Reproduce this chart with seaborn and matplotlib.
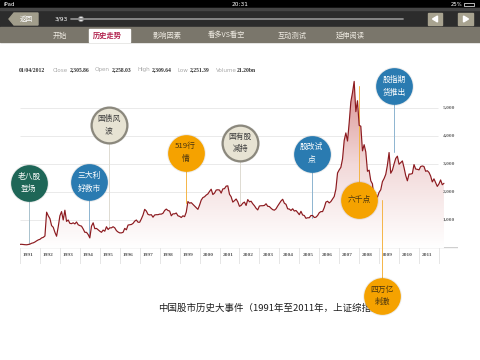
import numpy as np
import matplotlib
matplotlib.use("Agg")
import matplotlib.pyplot as plt
import seaborn as sns
from matplotlib.colors import LinearSegmentedColormap
from matplotlib.patches import Rectangle, Polygon, Circle

# 上证综指 月收盘 (1991.01 - 2012.04)
close_1991 = [130, 132, 125, 118, 115, 125, 140, 170, 185, 215, 255, 290]
close_1992 = [310, 360, 380, 430, 1280, 1150, 1050, 800, 740, 560, 420, 760]
close_1993 = [1150, 1300, 1000, 1350, 950, 1000, 880, 870, 900, 860, 930, 830]
close_1994 = [800, 780, 680, 560, 560, 480, 360, 780, 900, 690, 700, 650]
close_1995 = [600, 560, 640, 600, 760, 660, 720, 720, 760, 720, 620, 570]
close_1996 = [540, 540, 560, 700, 650, 820, 830, 840, 880, 960, 1000, 920]
close_1997 = [920, 1040, 1180, 1380, 1320, 1200, 1180, 1190, 1100, 1180, 1190, 1190]
close_1998 = [1210, 1210, 1240, 1340, 1390, 1340, 1320, 1150, 1220, 1220, 1250, 1150]
close_1999 = [1130, 1090, 1150, 1120, 1280, 1660, 1600, 1620, 1560, 1500, 1440, 1380]
close_2000 = [1530, 1710, 1800, 1830, 1890, 1930, 2020, 2100, 1910, 1960, 2070, 2080]
close_2001 = [2070, 1960, 2110, 2120, 2210, 2220, 1920, 1830, 1640, 1690, 1750, 1650]
close_2002 = [1490, 1520, 1600, 1640, 1520, 1730, 1650, 1670, 1580, 1510, 1420, 1360]
close_2003 = [1500, 1510, 1510, 1520, 1580, 1490, 1480, 1420, 1370, 1350, 1400, 1500]
close_2004 = [1590, 1680, 1740, 1600, 1560, 1400, 1390, 1340, 1400, 1320, 1340, 1270]
close_2005 = [1190, 1310, 1180, 1160, 1060, 1080, 1080, 1160, 1160, 1090, 1100, 1160]
close_2006 = [1260, 1300, 1300, 1440, 1640, 1670, 1610, 1660, 1750, 1840, 2100, 2680]
close_2007 = [2790, 2880, 3180, 3840, 4110, 3820, 4470, 5220, 5550, 5950, 4870, 5260]
close_2008 = [4380, 4350, 3470, 3690, 3430, 2740, 2780, 2400, 2290, 1730, 1870, 1820]
close_2009 = [1990, 2080, 2370, 2480, 2630, 2960, 3410, 2670, 2780, 3000, 3200, 3280]
close_2010 = [2990, 3050, 3110, 2870, 2590, 2400, 2640, 2640, 2660, 2980, 2820, 2810]
close_2011 = [2790, 2910, 2930, 2910, 2740, 2760, 2700, 2570, 2360, 2470, 2330, 2200]
close_2012 = [2290, 2430, 2260, 2310]

year_labels = [str(y) for y in range(1991, 2012)]
grid_levels = [1000, 2000, 3000, 4000, 5000]
grid_labels = ["1,000", "2,000", "3,000", "4,000", "5,000"]

# 大事件
event_text = ["老八股\n登场", "三大利\n好救市", "国债风\n波", "519行\n情", "国有股\n减持",
              "股改试\n点", "六千点", "股指期\n货推出", "四万亿\n刺激"]
event_date = [1991.45, 1994.48, 1995.45, 1999.3, 2002.05, 2005.62, 2008.0, 2009.77, 2009.15]
event_level = [150, 390, 700, 1600, 1550, 1080, 5800, 3430, 1700]
event_kind = ["green", "blue", "beige", "orange", "beige", "blue", "orange", "blue", "orange"]

info_labels = ["Close", "Open", "High", "Low", "Volume"]
info_values = ["2,305.86", "2,258.03", "2,309.64", "2,251.39", "21.20bn"]
tabs = ["开始", "历史走势", "影响因素", "看多VS看空", "互动测试", "延伸阅读"]

# 画面布局 (像素)
circle_y = [2320, 2340, 4390, 3410, 3750, 3375, 1714, 5770, -1710]
tab_x = [60, 107, 167, 226, 292, 350]
label_x = [53, 95, 137, 177, 216]
value_x = [70, 112, 152, 190, 237]

fill_col = {"green": "#1e6657", "blue": "#2a7bb1", "orange": "#f5a200", "beige": "#e7e3d3"}
text_col = {"green": "white", "blue": "white", "orange": "#4a3510", "beige": "#3a3a3a"}
line_col = {"green": "#a9c2cd", "blue": "#8db4d0", "orange": "#f5b547", "beige": "#dedbd2"}

sns.set_theme(style="white")
plt.rcParams["font.family"] = ["Noto Sans CJK SC", "DejaVu Sans"]

W, H = 480, 360
fig = plt.figure(figsize=(4.8, 3.6), dpi=100)
fig.patch.set_facecolor("white")

# 背景层：iPad 界面与标题
bg = fig.add_axes([0, 0, 1, 1], zorder=0)
bg.set_xlim(0, W)
bg.set_ylim(H, 0)
bg.axis("off")

bg.add_patch(Rectangle((0, 0), W, 8, color="black"))
bg.add_patch(Rectangle((0, 8), W, 19, color="#2c2c2c"))
bg.add_patch(Rectangle((0, 8), W, 2, color="#454545"))
bg.add_patch(Rectangle((0, 27), W, 15, color="#7a766b"))
bg.text(3, 4, "iPad", color="white", fontsize=4, va="center", family="DejaVu Sans")
bg.text(240, 4, "20:31", color="white", fontsize=4.2, va="center", ha="center", family="DejaVu Sans")
bg.text(462, 4, "25%", color="white", fontsize=3.8, va="center", ha="right", family="DejaVu Sans")
bg.add_patch(Rectangle((464, 2.5), 10, 3.5, fill=False, ec="white", lw=0.5))

bg.add_patch(Polygon([(9, 19), (14, 13), (38, 13), (38, 25), (14, 25)], color="#a19d8b"))
bg.text(26, 19, "返回", color="white", fontsize=4.8, ha="center", va="center")
bg.text(55, 19, "3/93", color="white", fontsize=4.3, va="center", family="DejaVu Sans")
bg.plot([71, 403], [19, 19], color="#8e8e8e", lw=1.3)
bg.add_patch(Circle((81, 19), 2.6, fc="#e8e8e8", ec="#777", lw=0.5))
bg.add_patch(Rectangle((428, 13), 14, 12, color="#a8a390"))
bg.add_patch(Rectangle((458, 13), 15, 12, color="#a8a390"))
bg.add_patch(Polygon([(432.5, 19), (437.5, 16), (437.5, 22)], color="white"))
bg.add_patch(Polygon([(468.5, 19), (463.5, 16), (463.5, 22)], color="white"))

bg.add_patch(Rectangle((89, 29), 41, 13, color="white"))
for t, tx in zip(tabs, tab_x):
    sel = t == "历史走势"
    bg.text(tx, 35.5, t, ha="center", va="center", fontsize=5.2,
            color="#b1204c" if sel else "#efebe2", weight="bold" if sel else "normal")

bg.text(19, 70, "01/04/2012", fontsize=4.1, va="center", weight="bold",
        color="#333", family="Liberation Serif")
for lb, v, lx, vx in zip(info_labels, info_values, label_x, value_x):
    bg.text(lx, 70, lb, fontsize=4.1, va="center", color="#aaa", family="DejaVu Sans")
    bg.text(vx, 70, v, fontsize=4.1, va="center", weight="bold", color="#333",
            family="Liberation Serif")

bg.text(158, 308, "中国股市历史大事件（1991年至2011年，上证综指）", fontsize=6.8,
        va="center", color="#1e1e1e")

# 主图
close = np.concatenate([close_1991, close_1992, close_1993, close_1994, close_1995,
                        close_1996, close_1997, close_1998, close_1999, close_2000,
                        close_2001, close_2002, close_2003, close_2004, close_2005,
                        close_2006, close_2007, close_2008, close_2009, close_2010,
                        close_2011, close_2012])
dates = 1991 + np.arange(len(close)) / 12

px_year = 19.95
x0, x1 = 1991, 1991 + 438 / px_year
ax = fig.add_axes([20 / W, 1 - 248 / H, 438 / W, 168 / H], zorder=2)
ax.patch.set_visible(False)
ax.set_xlim(x0, x1)
ax.set_ylim(0, 6000)
for s in ax.spines.values():
    s.set_visible(False)
ax.set_xticks([])
ax.set_yticks([])

grid_end = 1991 + 418 / px_year
ax.hlines(grid_levels, x0, grid_end, color="#e7e7e7", lw=0.6, zorder=0)
for lv, lb in zip(grid_levels, grid_labels):
    ax.text(grid_end + 0.25, lv, lb, fontsize=3.9, va="center", color="#666",
            weight="bold", family="Liberation Serif")

cmap = LinearSegmentedColormap.from_list("pk", ["#ffffff", "#f2d9d9", "#d98f8f"])
grad = np.linspace(0, 1, 256).reshape(-1, 1)
im = ax.imshow(grad, extent=[x0, x1, 0, 6000], origin="lower", aspect="auto",
               cmap=cmap, zorder=1)
poly = ax.fill_between(dates, close, 0, color="none", lw=0)
im.set_clip_path(poly.get_paths()[0], transform=ax.transData)

sns.lineplot(x=dates, y=close, color="#8c1a1f", linewidth=0.85, ax=ax, zorder=3)

# 事件连线与圆圈
for txt, d, lv, cy, k in zip(event_text, event_date, event_level, circle_y, event_kind):
    ax.plot([d, d], [cy, lv], color=line_col[k], lw=0.7, zorder=2, clip_on=False)
for txt, d, lv, cy, k in zip(event_text, event_date, event_level, circle_y, event_kind):
    ax.scatter([d], [cy], s=780, color="black", alpha=0.07, lw=0, zorder=4, clip_on=False)
    if k == "beige":
        ax.scatter([d], [cy], s=660, color=fill_col[k], edgecolor="#8b887d", linewidth=1.6,
                   zorder=5, clip_on=False)
    else:
        ax.scatter([d], [cy], s=700, color=fill_col[k], lw=0, zorder=5, clip_on=False)
    ax.text(d, cy, txt, ha="center", va="center", fontsize=5.6, linespacing=1.75,
            color=text_col[k], zorder=6, clip_on=False)

# 年份格子
ay = fig.add_axes([20 / W, 1 - 264 / H, 438 / W, 17 / H], zorder=1)
ay.set_xlim(x0, x1)
ay.set_ylim(0, 1)
ay.axis("off")
ay.axhline(1, color="#cfcfcf", lw=1.0)
ay.axhline(0, color="#e6e6e6", lw=0.6)
ay.vlines(np.arange(1991, 2013), 0, 1, color="#e2e2e2", lw=0.6)
for i, lb in enumerate(year_labels):
    ay.text(1991 + i + 0.15, 0.55, lb, fontsize=3.9, va="center", color="#555",
            family="Liberation Serif", weight="bold")

fig.savefig("out.png", dpi=100)
